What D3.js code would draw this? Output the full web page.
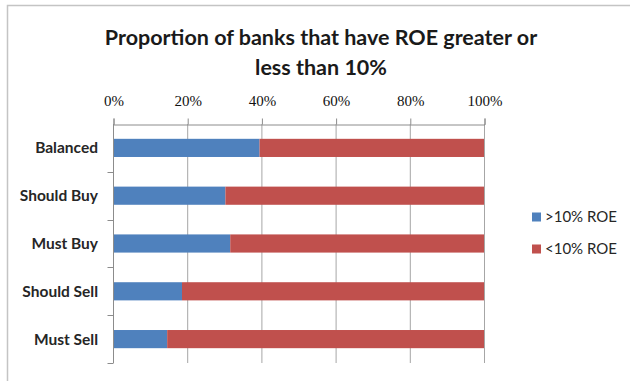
<!DOCTYPE html>
<html>
<head>
<meta charset="utf-8">
<script src="https://cdn.jsdelivr.net/npm/d3@7"></script>
<style>
  body { margin: 0; background: #fff; }
  svg { display: block; }
</style>
</head>
<body>
<div id="chart"></div>
<script>
// data (percent)
var categories = ["Balanced", "Should Buy", "Must Buy", "Should Sell", "Must Sell"];
var above10 = [39.5, 30.3, 31.6, 18.6, 14.6];
var below10 = [60.5, 69.7, 68.4, 81.4, 85.4];
var tickValues = [0, 20, 40, 60, 80, 100];
var seriesNames = [">10% ROE", "<10% ROE"];
var colors = ["#4f81bd", "#c0504d"];

var W = 630, H = 381;
var margin = { top: 124, left: 113, right: 146, bottom: 18 };

var svg = d3.select("#chart").append("svg")
    .attr("width", W)
    .attr("height", H);

// chart area border (only top and left visible in the crop)
svg.append("rect")
    .attr("x", 7.5).attr("y", 5.5)
    .attr("width", 640).attr("height", 400)
    .attr("fill", "#fff")
    .attr("stroke", "#c4c4c4")
    .attr("stroke-width", 1.5);

// title
var title = svg.append("text")
    .attr("text-anchor", "middle")
    .attr("font-family", "Lato, 'Open Sans', sans-serif")
    .attr("font-weight", "bold")
    .attr("font-size", 21.5)
    .attr("fill", "#1a1a1a");
title.append("tspan").attr("x", 321).attr("y", 45).text("Proportion of banks that have ROE greater or");
title.append("tspan").attr("x", 321).attr("y", 75).text("less than 10%");

var x = d3.scaleLinear()
    .domain([0, 100])
    .range([margin.left, 484]);

var y = d3.scaleBand()
    .domain(categories)
    .range([margin.top, H - margin.bottom])
    .paddingInner(0.62)
    .paddingOuter(0.31);

// vertical gridlines
svg.append("g")
    .selectAll("line")
    .data(tickValues.slice(1))
    .enter().append("line")
    .attr("x1", function (d) { return x(d) + 0.5; })
    .attr("x2", function (d) { return x(d) + 0.5; })
    .attr("y1", margin.top)
    .attr("y2", H - margin.bottom)
    .attr("stroke", "#a6a6a6")
    .attr("stroke-width", 1);

// top axis
var xAxis = svg.append("g")
    .attr("transform", "translate(0.5," + (margin.top + 0.5) + ")")
    .call(d3.axisTop(x).tickValues(tickValues).tickSize(6).tickPadding(13)
        .tickFormat(function (d) { return d + "%"; }));
xAxis.select(".domain").attr("stroke", "#8c8c8c");
xAxis.selectAll(".tick line").attr("stroke", "#8c8c8c");
xAxis.selectAll("text")
    .attr("font-family", "'Liberation Serif', 'DejaVu Serif', serif")
    .attr("font-size", 15)
    .attr("fill", "#111");

// left axis with ticks between categories
var yAxis = svg.append("g")
    .attr("transform", "translate(" + (margin.left + 0.5) + ",0)");
yAxis.append("line")
    .attr("x1", 0).attr("x2", 0)
    .attr("y1", margin.top).attr("y2", H - margin.bottom)
    .attr("stroke", "#8c8c8c");
var bounds = categories.map(function (c) { return y(c) - y.step() * y.paddingInner() / 2 + y.step(); });
yAxis.selectAll(".sep")
    .data(bounds)
    .enter().append("line")
    .attr("class", "sep")
    .attr("x1", -6).attr("x2", 0)
    .attr("y1", function (d) { return Math.round(d) + 0.5; })
    .attr("y2", function (d) { return Math.round(d) + 0.5; })
    .attr("stroke", "#8c8c8c");

svg.append("g")
    .selectAll("text")
    .data(categories)
    .enter().append("text")
    .attr("x", 98)
    .attr("y", function (d) { return y(d) + y.bandwidth() / 2; })
    .attr("dy", "0.35em")
    .attr("text-anchor", "end")
    .attr("font-family", "Lato, sans-serif")
    .attr("font-weight", "bold")
    .attr("font-size", 15.5)
    .attr("fill", "#262626")
    .text(function (d) { return d; });

// stacked bars
var rows = categories.map(function (c, i) { return { key: c, a: above10[i], b: below10[i] }; });

svg.append("g")
    .selectAll("rect")
    .data(rows)
    .enter().append("rect")
    .attr("x", x(0) + 1)
    .attr("y", function (d) { return y(d.key); })
    .attr("width", function (d) { return x(d.a) - x(0) - 1; })
    .attr("height", y.bandwidth())
    .attr("fill", colors[0]);

svg.append("g")
    .selectAll("rect")
    .data(rows)
    .enter().append("rect")
    .attr("x", function (d) { return x(d.a); })
    .attr("y", function (d) { return y(d.key); })
    .attr("width", function (d) { return x(d.a + d.b) - x(d.a); })
    .attr("height", y.bandwidth())
    .attr("fill", colors[1]);

// legend
var legend = svg.append("g");
seriesNames.forEach(function (name, i) {
    var ly = 217 + i * 32;
    legend.append("rect")
        .attr("x", 532).attr("y", ly - 4.5)
        .attr("width", 9).attr("height", 9)
        .attr("fill", colors[i]);
    legend.append("text")
        .attr("x", 545).attr("y", ly)
        .attr("dy", "0.35em")
        .attr("font-family", "Lato, sans-serif")
        .attr("font-size", 15)
        .attr("fill", "#262626")
        .text(name);
});
</script>
</body>
</html>
